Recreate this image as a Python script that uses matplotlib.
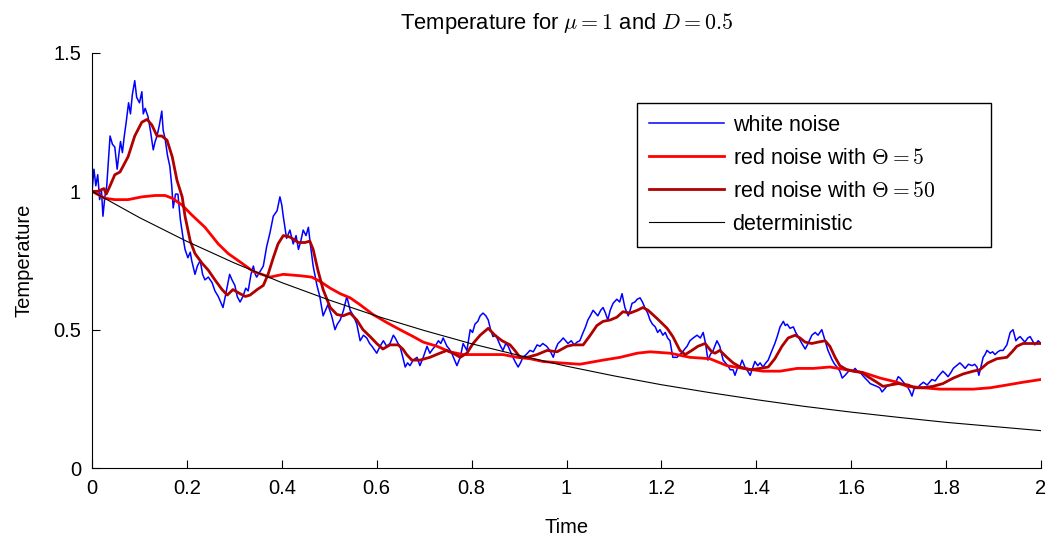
import matplotlib
matplotlib.use("Agg")
import matplotlib.pyplot as plt

plt.rcParams['font.family'] = ['Liberation Sans', 'DejaVu Sans']
plt.rcParams['mathtext.fontset'] = 'cm'

# white noise run (time, temperature)
t_white = [0.000, 0.004, 0.008, 0.012, 0.016, 0.020, 0.023, 0.027, 0.031, 0.035,
           0.038, 0.043, 0.048, 0.053, 0.057, 0.060, 0.064, 0.068, 0.072, 0.077,
           0.081, 0.085, 0.090, 0.094, 0.100, 0.105, 0.108, 0.112, 0.118, 0.123,
           0.129, 0.133, 0.137, 0.142, 0.147, 0.150, 0.154, 0.159, 0.164, 0.168,
           0.171, 0.176, 0.181, 0.186, 0.192, 0.196, 0.202, 0.207, 0.210, 0.217,
           0.222, 0.228, 0.233, 0.238, 0.245, 0.253, 0.259, 0.266, 0.271, 0.276,
           0.282, 0.290, 0.295, 0.301, 0.306, 0.312, 0.318, 0.324, 0.329, 0.335,
           0.340, 0.344, 0.347, 0.354, 0.361, 0.368, 0.375, 0.382, 0.390, 0.396,
           0.400, 0.403, 0.410, 0.417, 0.424, 0.430, 0.435, 0.440, 0.445, 0.451,
           0.456, 0.460, 0.466, 0.474, 0.480, 0.487, 0.492, 0.497, 0.505, 0.512,
           0.517, 0.523, 0.530, 0.537, 0.544, 0.551, 0.558, 0.565, 0.572, 0.579,
           0.585, 0.590, 0.600, 0.607, 0.614, 0.621, 0.628, 0.635, 0.639, 0.645,
           0.649, 0.655, 0.660, 0.665, 0.670, 0.677, 0.685, 0.691, 0.698, 0.706,
           0.712, 0.718, 0.723, 0.730, 0.735, 0.740, 0.748, 0.753, 0.758, 0.764,
           0.769, 0.776, 0.782, 0.790, 0.797, 0.802, 0.807, 0.813, 0.818, 0.824,
           0.830, 0.835, 0.840, 0.845, 0.851, 0.856, 0.861, 0.866, 0.872, 0.877,
           0.882, 0.887, 0.893, 0.898, 0.903, 0.908, 0.915, 0.923, 0.930, 0.938,
           0.944, 0.950, 0.958, 0.965, 0.972, 0.977, 0.982, 0.988, 0.993, 1.003,
           1.010, 1.016, 1.022, 1.028, 1.035, 1.040, 1.045, 1.050, 1.056, 1.061,
           1.066, 1.072, 1.077, 1.082, 1.087, 1.092, 1.098, 1.106, 1.112, 1.117,
           1.123, 1.130, 1.134, 1.138, 1.144, 1.149, 1.155, 1.160, 1.165, 1.171,
           1.176, 1.181, 1.187, 1.192, 1.197, 1.203, 1.208, 1.213, 1.218, 1.224,
           1.233, 1.238, 1.243, 1.249, 1.254, 1.260, 1.267, 1.275, 1.282, 1.288,
           1.293, 1.298, 1.303, 1.309, 1.317, 1.323, 1.330, 1.335, 1.340, 1.345,
           1.351, 1.355, 1.361, 1.366, 1.370, 1.376, 1.382, 1.387, 1.392, 1.397,
           1.403, 1.408, 1.414, 1.420, 1.425, 1.433, 1.439, 1.444, 1.450, 1.457,
           1.461, 1.465, 1.471, 1.478, 1.483, 1.488, 1.496, 1.503, 1.509, 1.517,
           1.524, 1.530, 1.538, 1.545, 1.551, 1.560, 1.565, 1.570, 1.576, 1.581,
           1.587, 1.592, 1.597, 1.603, 1.608, 1.613, 1.619, 1.624, 1.629, 1.635,
           1.640, 1.647, 1.654, 1.660, 1.665, 1.670, 1.675, 1.682, 1.688, 1.694,
           1.699, 1.703, 1.710, 1.718, 1.723, 1.728, 1.734, 1.740, 1.745, 1.752,
           1.760, 1.765, 1.770, 1.777, 1.783, 1.788, 1.793, 1.799, 1.804, 1.810,
           1.815, 1.822, 1.829, 1.835, 1.840, 1.847, 1.855, 1.860, 1.865, 1.869,
           1.874, 1.878, 1.882, 1.886, 1.893, 1.898, 1.903, 1.909, 1.914, 1.920,
           1.928, 1.935, 1.941, 1.947, 1.952, 1.956, 1.961, 1.966, 1.972, 1.977,
           1.982, 1.987, 1.994, 2.000]
T_white = [1.00, 1.08, 1.02, 1.06, 0.97, 1.00, 0.91, 0.98, 1.02, 1.12,
           1.20, 1.17, 1.16, 1.08, 1.14, 1.18, 1.14, 1.20, 1.25, 1.32,
           1.28, 1.35, 1.40, 1.34, 1.32, 1.36, 1.28, 1.30, 1.27, 1.22,
           1.15, 1.18, 1.20, 1.24, 1.29, 1.22, 1.19, 1.13, 1.09, 1.02,
           0.94, 0.99, 0.99, 0.90, 0.83, 0.79, 0.76, 0.78, 0.75, 0.70,
           0.73, 0.75, 0.70, 0.68, 0.69, 0.67, 0.64, 0.62, 0.60, 0.58,
           0.63, 0.70, 0.68, 0.66, 0.62, 0.60, 0.62, 0.65, 0.64, 0.70,
           0.73, 0.70, 0.69, 0.71, 0.73, 0.80, 0.85, 0.91, 0.93, 0.98,
           0.95, 0.91, 0.83, 0.86, 0.81, 0.84, 0.79, 0.82, 0.86, 0.84,
           0.87, 0.81, 0.73, 0.66, 0.62, 0.55, 0.57, 0.59, 0.55, 0.50,
           0.52, 0.535, 0.57, 0.62, 0.57, 0.55, 0.52, 0.46, 0.48, 0.47,
           0.45, 0.44, 0.415, 0.44, 0.46, 0.44, 0.45, 0.48, 0.47, 0.45,
           0.44, 0.40, 0.365, 0.38, 0.37, 0.39, 0.40, 0.37, 0.40, 0.44,
           0.415, 0.43, 0.44, 0.46, 0.45, 0.47, 0.44, 0.43, 0.415, 0.39,
           0.37, 0.40, 0.45, 0.425, 0.50, 0.49, 0.52, 0.53, 0.55, 0.56,
           0.55, 0.535, 0.50, 0.475, 0.48, 0.46, 0.44, 0.425, 0.45, 0.44,
           0.42, 0.40, 0.38, 0.365, 0.38, 0.40, 0.41, 0.425, 0.42, 0.445,
           0.44, 0.45, 0.44, 0.425, 0.40, 0.43, 0.45, 0.46, 0.47, 0.45,
           0.46, 0.445, 0.455, 0.46, 0.49, 0.51, 0.535, 0.55, 0.57, 0.56,
           0.55, 0.57, 0.58, 0.56, 0.535, 0.57, 0.595, 0.61, 0.60, 0.63,
           0.58, 0.55, 0.57, 0.595, 0.60, 0.61, 0.615, 0.60, 0.58, 0.56,
           0.535, 0.52, 0.51, 0.49, 0.50, 0.48, 0.49, 0.47, 0.46, 0.40,
           0.40, 0.41, 0.415, 0.43, 0.44, 0.46, 0.47, 0.48, 0.47, 0.49,
           0.45, 0.39, 0.41, 0.425, 0.46, 0.44, 0.39, 0.38, 0.37, 0.355,
           0.355, 0.335, 0.365, 0.37, 0.39, 0.365, 0.35, 0.335, 0.36, 0.385,
           0.37, 0.38, 0.365, 0.38, 0.39, 0.425, 0.45, 0.475, 0.51, 0.53,
           0.515, 0.52, 0.505, 0.51, 0.49, 0.475, 0.45, 0.43, 0.45, 0.48,
           0.49, 0.48, 0.50, 0.46, 0.425, 0.39, 0.375, 0.365, 0.35, 0.325,
           0.335, 0.345, 0.355, 0.35, 0.36, 0.35, 0.345, 0.335, 0.325, 0.315,
           0.305, 0.30, 0.295, 0.29, 0.275, 0.285, 0.295, 0.30, 0.305, 0.31,
           0.33, 0.325, 0.31, 0.295, 0.28, 0.26, 0.295, 0.29, 0.30, 0.31,
           0.30, 0.31, 0.32, 0.315, 0.33, 0.34, 0.35, 0.34, 0.33, 0.345,
           0.36, 0.37, 0.38, 0.37, 0.36, 0.375, 0.37, 0.375, 0.365, 0.335,
           0.37, 0.40, 0.41, 0.425, 0.415, 0.42, 0.41, 0.42, 0.425, 0.425,
           0.445, 0.49, 0.50, 0.46, 0.47, 0.475, 0.465, 0.455, 0.47, 0.475,
           0.46, 0.445, 0.46, 0.45]

# red noise, Theta = 5
t_red5 = [0.000, 0.027, 0.048, 0.076, 0.105, 0.133, 0.154, 0.169, 0.190, 0.210,
          0.238, 0.266, 0.287, 0.316, 0.340, 0.375, 0.403, 0.438, 0.463, 0.480,
          0.502, 0.523, 0.544, 0.565, 0.592, 0.622, 0.649, 0.677, 0.698, 0.727,
          0.754, 0.782, 0.811, 0.839, 0.866, 0.896, 0.923, 0.950, 0.986, 1.028,
          1.077, 1.113, 1.149, 1.176, 1.218, 1.260, 1.302, 1.338, 1.372, 1.414,
          1.450, 1.486, 1.520, 1.555, 1.591, 1.625, 1.661, 1.697, 1.718, 1.751,
          1.787, 1.823, 1.857, 1.893, 1.928, 1.962, 2.000]
T_red5 = [1.00, 0.975, 0.97, 0.97, 0.98, 0.985, 0.985, 0.975, 0.95, 0.915,
          0.87, 0.81, 0.775, 0.74, 0.71, 0.69, 0.70, 0.695, 0.69, 0.675,
          0.65, 0.63, 0.615, 0.59, 0.555, 0.525, 0.50, 0.475, 0.455, 0.44,
          0.42, 0.41, 0.41, 0.41, 0.41, 0.40, 0.395, 0.385, 0.38, 0.375,
          0.39, 0.40, 0.415, 0.42, 0.415, 0.40, 0.395, 0.37, 0.36, 0.35,
          0.35, 0.36, 0.36, 0.365, 0.355, 0.345, 0.325, 0.31, 0.295, 0.29,
          0.285, 0.285, 0.285, 0.29, 0.30, 0.31, 0.32]

# red noise, Theta = 50
t_red50 = [0.000, 0.012, 0.025, 0.030, 0.038, 0.048, 0.059, 0.076, 0.090, 0.105,
           0.116, 0.126, 0.137, 0.147, 0.158, 0.169, 0.179, 0.190, 0.196, 0.207,
           0.217, 0.232, 0.245, 0.259, 0.274, 0.285, 0.297, 0.312, 0.323, 0.333,
           0.348, 0.361, 0.371, 0.382, 0.392, 0.403, 0.417, 0.435, 0.449, 0.459,
           0.466, 0.476, 0.487, 0.502, 0.516, 0.529, 0.544, 0.558, 0.571, 0.586,
           0.600, 0.613, 0.628, 0.645, 0.655, 0.663, 0.674, 0.691, 0.712, 0.733,
           0.748, 0.761, 0.776, 0.790, 0.803, 0.818, 0.835, 0.849, 0.864, 0.881,
           0.891, 0.902, 0.917, 0.938, 0.959, 0.980, 1.001, 1.014, 1.035, 1.050,
           1.064, 1.077, 1.092, 1.106, 1.119, 1.134, 1.149, 1.161, 1.172, 1.191,
           1.212, 1.224, 1.239, 1.250, 1.264, 1.277, 1.292, 1.306, 1.313, 1.323,
           1.338, 1.351, 1.366, 1.387, 1.408, 1.425, 1.439, 1.454, 1.467, 1.482,
           1.492, 1.503, 1.517, 1.530, 1.545, 1.555, 1.566, 1.576, 1.591, 1.604,
           1.623, 1.635, 1.654, 1.667, 1.682, 1.699, 1.720, 1.734, 1.751, 1.772,
           1.793, 1.815, 1.836, 1.857, 1.871, 1.888, 1.907, 1.928, 1.939, 1.949,
           1.962, 1.981, 2.000]
T_red50 = [1.00, 1.00, 1.01, 0.99, 1.02, 1.06, 1.07, 1.125, 1.20, 1.25,
           1.26, 1.24, 1.20, 1.20, 1.185, 1.125, 1.04, 0.98, 0.91, 0.82,
           0.775, 0.74, 0.715, 0.68, 0.645, 0.625, 0.645, 0.63, 0.62, 0.625,
           0.645, 0.66, 0.70, 0.76, 0.81, 0.84, 0.835, 0.815, 0.815, 0.82,
           0.79, 0.715, 0.645, 0.58, 0.555, 0.55, 0.56, 0.535, 0.50, 0.475,
           0.45, 0.43, 0.445, 0.445, 0.43, 0.41, 0.39, 0.39, 0.40, 0.415,
           0.425, 0.415, 0.40, 0.415, 0.45, 0.48, 0.505, 0.48, 0.46, 0.445,
           0.425, 0.40, 0.40, 0.41, 0.425, 0.42, 0.44, 0.445, 0.445, 0.48,
           0.515, 0.53, 0.535, 0.545, 0.565, 0.56, 0.57, 0.58, 0.57, 0.54,
           0.505, 0.475, 0.425, 0.41, 0.425, 0.44, 0.45, 0.42, 0.415, 0.425,
           0.40, 0.38, 0.365, 0.355, 0.36, 0.365, 0.395, 0.44, 0.47, 0.48,
           0.47, 0.455, 0.45, 0.455, 0.46, 0.44, 0.40, 0.37, 0.355, 0.35,
           0.345, 0.33, 0.31, 0.295, 0.30, 0.305, 0.30, 0.29, 0.29, 0.295,
           0.305, 0.325, 0.34, 0.35, 0.355, 0.38, 0.395, 0.40, 0.42, 0.44,
           0.45, 0.45, 0.45]

# deterministic decay
t_det = [0.0, 0.1, 0.2, 0.3, 0.4, 0.5, 0.6, 0.7, 0.8, 0.9, 1.0,
         1.1, 1.2, 1.3, 1.4, 1.5, 1.6, 1.7, 1.8, 1.9, 2.0]
T_det = [1.000, 0.905, 0.819, 0.741, 0.670, 0.607, 0.549, 0.497, 0.449, 0.407, 0.368,
         0.333, 0.301, 0.273, 0.247, 0.223, 0.202, 0.183, 0.165, 0.150, 0.135]

xticks = [0, 0.2, 0.4, 0.6, 0.8, 1, 1.2, 1.4, 1.6, 1.8, 2]
xticklabels = ['0', '0.2', '0.4', '0.6', '0.8', '1', '1.2', '1.4', '1.6', '1.8', '2']
yticks = [0, 0.5, 1, 1.5]
yticklabels = ['0', '0.5', '1', '1.5']

fig = plt.figure(figsize=(10.47, 5.38), dpi=100)
ax = fig.add_axes([0.0879, 0.1301, 0.9064, 0.7714])

ax.plot(t_white, T_white, color='#0000ff', lw=1.1, label='white noise')
ax.plot(t_red5, T_red5, color='#ff0000', lw=2.0, label=r'red noise with $\Theta = 5$')
ax.plot(t_red50, T_red50, color='#b00000', lw=2.0, label=r'red noise with $\Theta = 50$')
ax.plot(t_det, T_det, color='black', lw=0.8, label='deterministic')

ax.set_xlim(0, 2)
ax.set_ylim(0, 1.5)
ax.set_xticks(xticks)
ax.set_xticklabels(xticklabels)
ax.set_yticks(yticks)
ax.set_yticklabels(yticklabels)
ax.tick_params(direction='in', length=6, width=0.8, labelsize=14.5, pad=8,
               top=False, right=False)
for side in ['top', 'right']:
    ax.spines[side].set_visible(False)
for side in ['left', 'bottom']:
    ax.spines[side].set_linewidth(0.8)

ax.set_title(r'Temperature for $\mu = 1$ and $D = 0.5$', fontsize=15.8, pad=17)
ax.set_xlabel('Time', fontsize=14.5, labelpad=14)
ax.set_ylabel('Temperature', fontsize=14.5, labelpad=14)

# legend box stretched to a fixed width, entries left aligned
leg = ax.legend(loc='upper left', bbox_to_anchor=(0.574, 0.547, 0.373, 0.3325),
                mode='expand', fontsize=15.5,
                fancybox=False, edgecolor='black', framealpha=1,
                handlelength=3.5, handletextpad=0.4, labelspacing=0.56,
                borderpad=0.55, borderaxespad=0)
leg.get_frame().set_linewidth(1.0)

fig.savefig('out.png', dpi=100)
